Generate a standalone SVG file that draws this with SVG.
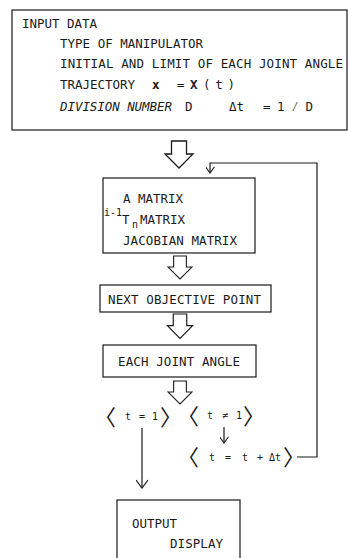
<svg xmlns="http://www.w3.org/2000/svg" width="348" height="558" viewBox="0 0 348 558">
<style>
.box{fill:#fff;stroke:#1a1a1a;stroke-width:1.2}
.t{font-family:"DejaVu Sans Mono","Liberation Mono",monospace;font-size:12.5px;fill:#1a1a1a}
.s{font-family:"DejaVu Sans Mono","Liberation Mono",monospace;font-size:10px;fill:#1a1a1a}
.br{font-family:"Noto Sans CJK SC","DejaVu Sans",sans-serif;font-size:22px;fill:#1a1a1a;font-feature-settings:"halt"}
.ln{fill:none;stroke:#1a1a1a;stroke-width:1.2}
.hol{fill:#fff;stroke:#1a1a1a;stroke-width:1.3;stroke-linejoin:miter}
</style>
<defs>
<marker id="v" viewBox="0 0 12 10" refX="6" refY="9" markerWidth="12" markerHeight="10" markerUnits="userSpaceOnUse" orient="0">
<path d="M0,1 L6,9 L12,1" fill="none" stroke="#1a1a1a" stroke-width="1.2"/>
</marker>
<marker id="vs" viewBox="0 0 10 10" refX="5" refY="9" markerWidth="9" markerHeight="9" markerUnits="userSpaceOnUse" orient="0">
<path d="M0,2 L5,9 L10,2" fill="none" stroke="#1a1a1a" stroke-width="1.2"/>
</marker>
<path id="hollow" d="M-7.5,0 H7.5 V13 H14 L0,27 L-14,13 H-7.5 Z"/>
</defs>

<g id="input">
<rect class="box" x="12" y="10" width="335" height="120"/>
<text class="t" x="22" y="28" textLength="75">INPUT DATA</text>
<text class="t" x="60" y="48" textLength="143">TYPE OF MANIPULATOR</text>
<text class="t" x="60" y="68" textLength="283">INITIAL AND LIMIT OF EACH JOINT ANGLE</text>
<text class="t" x="60" y="89" textLength="75">TRAJECTORY</text>
<text class="t" x="152" y="89" font-weight="bold">x</text>
<text class="t" x="177" y="89">=</text>
<text class="t" x="190" y="89" font-weight="bold">X</text>
<text class="t" x="203" y="89" textLength="32">( t )</text>
<text class="t" x="60" y="111" font-style="italic" textLength="112">DIVISION NUMBER</text>
<text class="t" x="185" y="111" font-size="14">D</text>
<text class="t" x="229" y="111">Δt</text>
<text class="t" x="263" y="111">=</text>
<text class="t" x="277" y="111" textLength="36">1 ⁄ D</text>
</g>

<g id="matrix">
<rect class="box" x="103" y="178" width="152" height="75"/>
<text class="t" x="123" y="203" textLength="60">A MATRIX</text>
<text class="s" x="104" y="216" font-size="8">i-1</text>
<text class="t" x="122" y="224">T</text>
<text class="s" x="132" y="228" font-size="8">n</text>
<text class="t" x="140" y="224" textLength="45">MATRIX</text>
<text class="t" x="123" y="245" textLength="114">JACOBIAN MATRIX</text>
</g>

<g id="next">
<rect class="box" x="100" y="285" width="171" height="27"/>
<text class="t" x="108" y="304" textLength="153">NEXT OBJECTIVE POINT</text>
</g>

<g id="joint">
<rect class="box" x="103" y="345" width="153" height="32"/>
<text class="t" x="118" y="366" textLength="122">EACH JOINT ANGLE</text>
</g>

<g id="t1">
<text class="br" x="105" y="425">〈</text>
<text class="s" x="125" y="420">t</text>
<text class="s" x="139" y="420">=</text>
<text class="s" x="152" y="420">1</text>
<text class="br" x="160" y="425">〉</text>
</g>

<g id="tne1">
<text class="br" x="188" y="424">〈</text>
<text class="s" x="207" y="419">t</text>
<text class="s" x="222" y="419">≠</text>
<text class="s" x="236" y="419">1</text>
<text class="br" x="243" y="424">〉</text>
</g>

<g id="tinc">
<text class="br" x="188" y="465">〈</text>
<text class="s" x="209" y="461">t</text>
<text class="s" x="225" y="461">=</text>
<text class="s" x="242" y="461">t</text>
<text class="s" x="257" y="461">+</text>
<text class="s" x="269" y="461">Δt</text>
<text class="br" x="283" y="465">〉</text>
</g>

<g id="output">
<rect class="box" x="117" y="500" width="123" height="62"/>
<text class="t" x="132" y="528" textLength="45">OUTPUT</text>
<text class="t" x="170" y="548" textLength="53">DISPLAY</text>
</g>

<g id="connectors">
<use href="#hollow" class="hol" x="179" y="141"/>
<use href="#hollow" class="hol" x="180" y="256" transform="translate(180 256) scale(0.85) translate(-180 -256)"/>
<use href="#hollow" class="hol" x="180" y="314" transform="translate(180 314) scale(0.9) translate(-180 -314)"/>
<use href="#hollow" class="hol" x="180" y="381" transform="translate(180 381) scale(0.85) translate(-180 -381)"/>
<line class="ln" x1="142" y1="428" x2="142" y2="488" marker-end="url(#v)"/>
<line class="ln" x1="224" y1="427" x2="224" y2="443" marker-end="url(#vs)"/>
<polyline class="ln" points="297,457 317,457 317,163 210,163 210,173" marker-end="url(#vs)"/>
</g>
</svg>
